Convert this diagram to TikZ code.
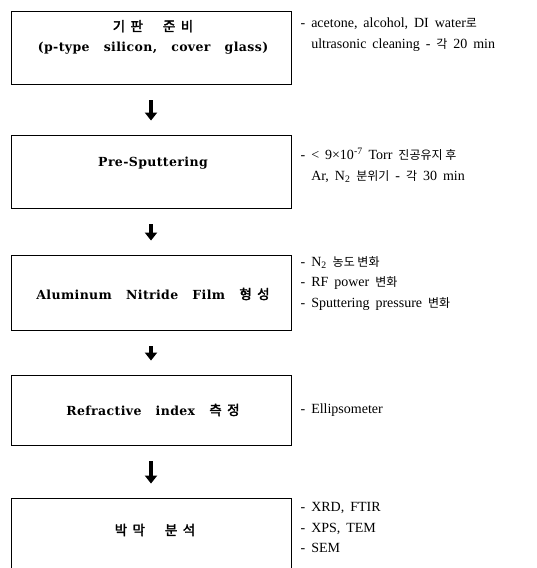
\documentclass[tikz,border=0pt]{standalone}
\usepackage{fontspec}
\setmainfont{Liberation Serif}[WordSpace=1.7]
\newfontfamily\kr{Noto Sans CJK KR}[AutoFakeBold=2]
\newfontfamily\krbox{Noto Sans CJK KR}[AutoFakeBold=2.5, LetterSpace=40]
\newfontfamily\boxfont{DejaVu Serif}[LetterSpace=3, WordSpace=3]
\usetikzlibrary{arrows.meta, positioning, calc}

\newcommand{\kn}[1]{{\kr\fontsize{12}{12}\selectfont #1}}
\newcommand{\kb}[1]{{\krbox\fontsize{13.5}{13.5}\selectfont #1}}

\tikzset{
  stepbox/.style={draw, line width=0.9pt, minimum width=280pt, inner sep=0pt},
  steptext/.style={font=\boxfont\bfseries\fontsize{12.5}{20}\selectfont, align=center, inner sep=0pt},
  note/.style={font=\fontsize{14}{20.5}\selectfont, align=left, inner sep=0pt},
  flow/.style={-{Triangle[width=12pt,length=8pt]}, line width=4pt, shorten <=16pt, shorten >=14pt},
}

\begin{document}
\begin{tikzpicture}[x=1pt, y=-1pt]
  \useasboundingbox (0,0) rectangle (536,568);
  \clip (0,0) rectangle (536,568);

  % process steps
  \node[stepbox, minimum height=73pt] (sub) at (151,47.5) {};
  \node[stepbox, minimum height=73pt] (pre) at (151,171.5) {};
  \node[stepbox, minimum height=75pt] (aln) at (151,292.5) {};
  \node[stepbox, minimum height=70pt] (ref) at (151,410) {};
  \node[stepbox, minimum height=100pt] (ana) at (151,548) {};

  \node[steptext] (subtxt) at (153,37) {\kb{기판\hspace{20pt}준비}\\(p-type silicon, cover glass)};
  \node[steptext] (pretxt) at (153,163) {Pre-Sputtering};
  \node[steptext] (alntxt) at (153,294) {Aluminum Nitride Film \kb{형성}};
  \node[steptext] (reftxt) at (153,410) {Refractive index \kb{측정}};
  \node[steptext] (anatxt) at (155,530) {\kb{박막\hspace{20pt}분석}};

  % conditions
  \node[note, right=9pt of sub, yshift=13pt] (subnote)
    {- acetone, alcohol, DI water\kn{로}\\\phantom{- }ultrasonic cleaning - \kn{각} 20 min};
  \node[note, right=9pt of pre, yshift=6pt] (prenote)
    {- < 9×10\textsuperscript{-7} Torr \kn{진공유지 후}\\\phantom{- }Ar, N\textsubscript{2} \kn{분위기} - \kn{각} 30 min};
  \node[note, right=9pt of aln, yshift=9pt] (alnnote)
    {- N\textsubscript{2} \kn{농도 변화}\\- RF power \kn{변화}\\- Sputtering pressure \kn{변화}};
  \node[note, right=9pt of ref] (refnote) {- Ellipsometer};
  \node[note, anchor=west] (ananote) at ($(ana.north east)+(9,30)$)
    {- XRD, FTIR\\- XPS, TEM\\- SEM};

  % flow
  \draw[flow] (sub.south) -- (pre.north);
  \draw[flow] (pre.south) -- (aln.north);
  \draw[flow] (aln.south) -- (ref.north);
  \draw[flow] (ref.south) -- (ana.north);
\end{tikzpicture}
\end{document}
